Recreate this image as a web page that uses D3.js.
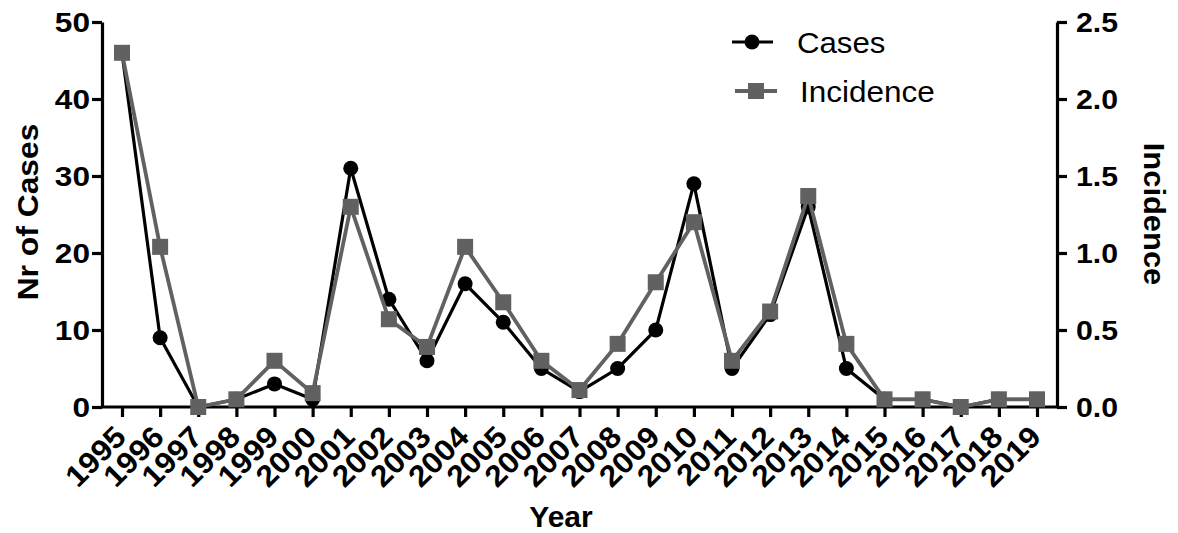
<!DOCTYPE html>
<html>
<head>
<meta charset="utf-8">
<script src="https://cdn.jsdelivr.net/npm/d3@7"></script>
<style>
  body { margin: 0; background: #fff; }
  svg { display: block; }
  text { font-family: "Liberation Sans", Arial, Helvetica, sans-serif; }
</style>
</head>
<body>
<svg id="chart" width="1178" height="533"></svg>
<script>
const years = [1995,1996,1997,1998,1999,2000,2001,2002,2003,2004,2005,2006,2007,2008,2009,2010,2011,2012,2013,2014,2015,2016,2017,2018,2019];
const cases = [46,9,0,1,3,1,31,14,6,16,11,5,2,5,10,29,5,12,26,5,1,1,0,1,1];
const incidence = [2.30,1.04,0.00,0.05,0.30,0.09,1.30,0.57,0.39,1.04,0.68,0.30,0.11,0.41,0.81,1.20,0.30,0.62,1.37,0.41,0.05,0.05,0.00,0.05,0.05];
const leftTicks = [0,10,20,30,40,50];
const rightTicks = [0,0.5,1.0,1.5,2.0,2.5];
const seriesNames = ["Cases","Incidence"];

const svg = d3.select("#chart");
const plotLeft = 102, plotRight = 1057, plotTop = 22, plotBottom = 407;

const x = d3.scalePoint().domain(years).range([122, 1037]);
const yL = d3.scaleLinear().domain([0, 50]).range([plotBottom, plotTop]);
const yR = d3.scaleLinear().domain([0, 2.5]).range([plotBottom, plotTop]);

const black = "#000000", gray = "#616161";

function styleAxis(g) {
  g.selectAll("path.domain").attr("stroke", "#000").attr("stroke-width", 3.2);
  g.selectAll(".tick line").attr("stroke", "#000").attr("stroke-width", 3.2);
  g.selectAll(".tick text").remove();
}
svg.append("g").attr("transform", `translate(${plotLeft},0)`)
  .call(d3.axisLeft(yL).tickValues(leftTicks).tickSize(10).tickSizeOuter(0))
  .call(styleAxis);
svg.append("g").attr("transform", `translate(${plotRight},0)`)
  .call(d3.axisRight(yR).tickValues(rightTicks).tickSize(10).tickSizeOuter(0))
  .call(styleAxis);
const xg = svg.append("g").attr("transform", `translate(0,${plotBottom})`)
  .call(d3.axisBottom(x).tickSize(10).tickSizeOuter(0))
  .call(styleAxis);
xg.select("path.domain").attr("d", `M${plotLeft},0H${plotRight}`);

// Tick labels
svg.append("g").selectAll("text").data(leftTicks).join("text")
  .attr("transform", d => `translate(${plotLeft - 12},${yL(d)}) scale(1.13,1)`)
  .attr("dy", "0.36em")
  .attr("text-anchor", "end").attr("font-weight", "bold").attr("font-size", 28)
  .text(d => d);
svg.append("g").selectAll("text").data(rightTicks).join("text")
  .attr("transform", d => `translate(${plotRight + 19},${yR(d)}) scale(1.08,1)`)
  .attr("dy", "0.36em")
  .attr("text-anchor", "start").attr("font-weight", "bold").attr("font-size", 28)
  .text(d => d.toFixed(1));
svg.append("g").selectAll("text").data(years).join("text")
  .attr("transform", d => `translate(${x(d) - 2},${plotBottom + 24}) rotate(-45) scale(1.06,1)`)
  .attr("text-anchor", "end").attr("dy", "0.36em")
  .attr("font-weight", "bold").attr("font-size", 30)
  .text(d => d);

// Axis titles
svg.append("text").attr("transform", `translate(38,212) rotate(-90) scale(1.06,1)`)
  .attr("text-anchor", "middle").attr("font-weight", "bold").attr("font-size", 30)
  .text("Nr of Cases");
svg.append("text").attr("transform", `translate(1144,214) rotate(90) scale(1.03,1)`)
  .attr("text-anchor", "middle").attr("font-weight", "bold").attr("font-size", 30)
  .text("Incidence");
svg.append("text").attr("x", 561).attr("y", 527)
  .attr("text-anchor", "middle").attr("font-weight", "bold").attr("font-size", 30)
  .text("Year");

// Series
const lineL = d3.line().x((d, i) => x(years[i])).y(d => yL(d));
const lineR = d3.line().x((d, i) => x(years[i])).y(d => yR(d));

svg.append("path").datum(cases).attr("d", lineL)
  .attr("fill", "none").attr("stroke", black).attr("stroke-width", 3.2);
svg.append("g").selectAll("circle").data(cases).join("circle")
  .attr("cx", (d, i) => x(years[i])).attr("cy", d => yL(d)).attr("r", 7.5)
  .attr("fill", black);

const sq = 16;
svg.append("path").datum(incidence).attr("d", lineR)
  .attr("fill", "none").attr("stroke", gray).attr("stroke-width", 3.8);
svg.append("g").selectAll("rect").data(incidence).join("rect")
  .attr("x", (d, i) => x(years[i]) - sq / 2).attr("y", d => yR(d) - sq / 2)
  .attr("width", sq).attr("height", sq).attr("fill", gray);

// Legend
const legend = svg.append("g");
legend.append("line").attr("x1", 732).attr("x2", 773).attr("y1", 42).attr("y2", 42)
  .attr("stroke", black).attr("stroke-width", 3.2);
legend.append("circle").attr("cx", 752).attr("cy", 42).attr("r", 7.5).attr("fill", black);
legend.append("text").attr("transform", "translate(797,42) scale(1.04,1)").attr("dy", "0.36em")
  .attr("font-size", 30).text(seriesNames[0]);
legend.append("line").attr("x1", 735).attr("x2", 777).attr("y1", 91).attr("y2", 91)
  .attr("stroke", gray).attr("stroke-width", 3.8);
legend.append("rect").attr("x", 756 - sq / 2).attr("y", 91 - sq / 2)
  .attr("width", sq).attr("height", sq).attr("fill", gray);
legend.append("text").attr("transform", "translate(800,91) scale(1.05,1)").attr("dy", "0.36em")
  .attr("font-size", 30).text(seriesNames[1]);
</script>
</body>
</html>
